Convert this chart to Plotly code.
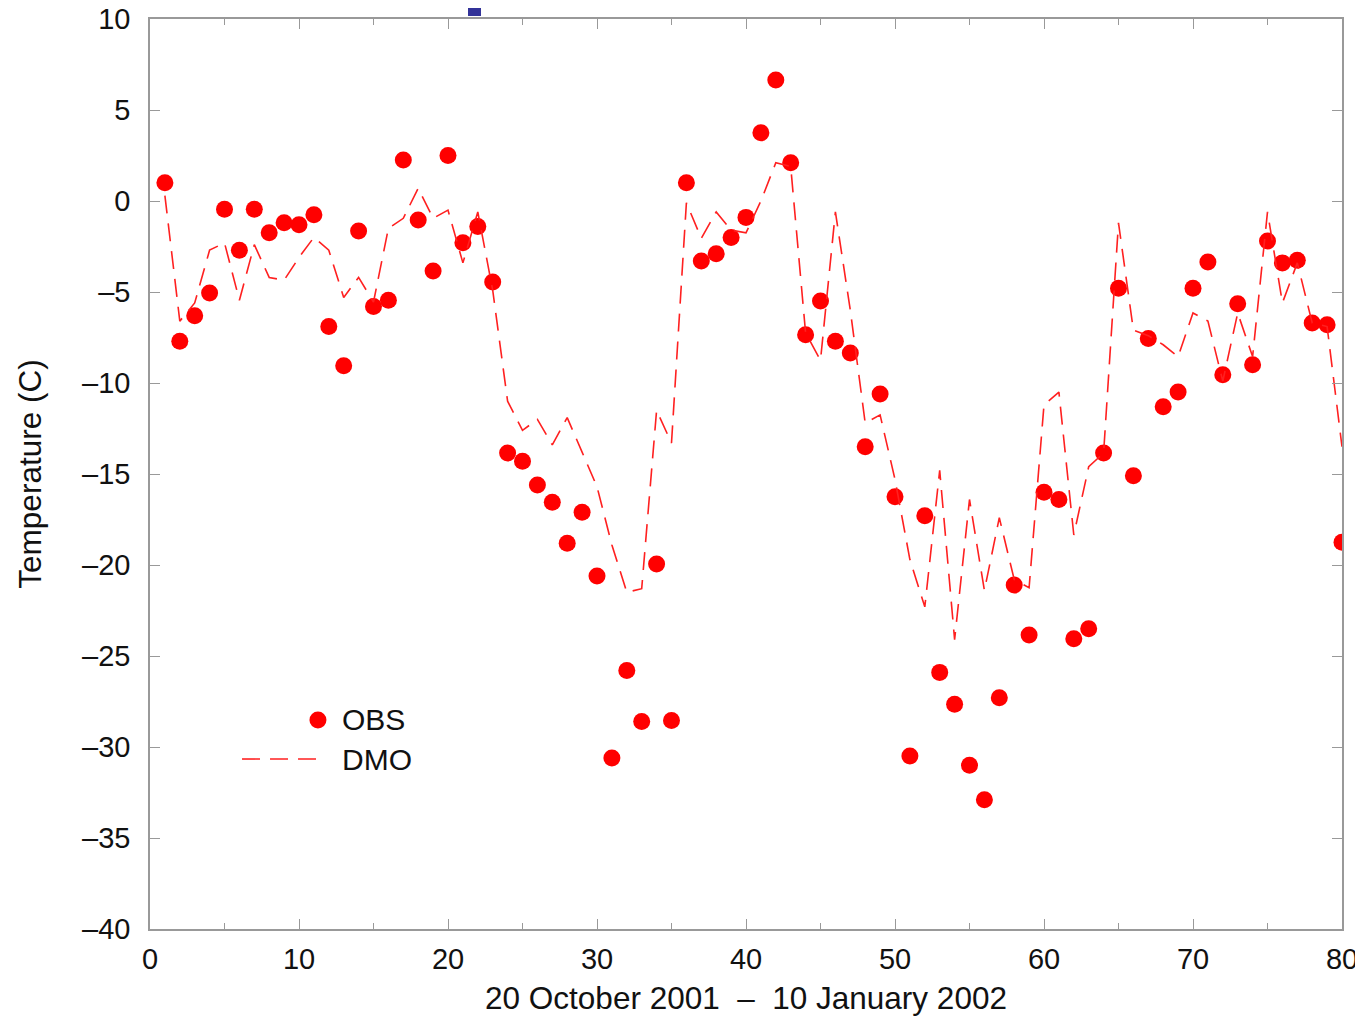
import plotly.graph_objects as go

days = list(range(1, 81))

obs = [1.0, -7.7, -6.3, -5.05, -0.45, -2.7, -0.45, -1.75, -1.2, -1.3,
       -0.75, -6.9, -9.05, -1.65, -5.8, -5.45, 2.25, -1.05, -3.85, 2.5,
       -2.3, -1.4, -4.45, -13.85, -14.3, -15.6, -16.55, -18.8, -17.1, -20.6,
       -30.6, -25.8, -28.6, -19.95, -28.55, 1.0, -3.3, -2.9, -2.0, -0.9,
       3.75, 6.65, 2.1, -7.35, -5.5, -7.7, -8.35, -13.5, -10.6, -16.25,
       -30.5, -17.3, -25.9, -27.65, -31.0, -32.9, -27.3, -21.1, -23.85, -16.0,
       -16.4, -24.05, -23.5, -13.85, -4.8, -15.1, -7.55, -11.3, -10.5, -4.8,
       -3.35, -9.55, -5.65, -9.0, -2.2, -3.4, -3.25, -6.7, -6.8, -18.75]

dmo = [0.3, -6.6, -5.6, -2.7, -2.3, -5.45, -2.4, -4.2, -4.35, -3.1,
       -2.0, -2.7, -5.3, -4.2, -5.55, -1.5, -0.95, 0.7, -0.95, -0.5,
       -3.4, -0.6, -4.9, -11.0, -12.6, -12.0, -13.4, -11.9, -13.8, -15.7,
       -18.9, -21.5, -21.3, -11.5, -13.3, -0.1, -2.05, -0.6, -1.6, -1.75,
       0.0, 2.1, 1.9, -7.25, -8.75, -0.6, -6.0, -12.2, -11.75, -15.3,
       -19.7, -22.3, -14.8, -24.1, -16.4, -21.4, -17.4, -20.8, -21.25, -11.2,
       -10.5, -18.35, -14.6, -13.85, -1.2, -7.1, -7.4, -7.9, -8.55, -6.15,
       -6.6, -9.9, -6.15, -8.55, -0.6, -5.6, -3.4, -6.7, -6.9, -13.5]

x_ticks = [0, 10, 20, 30, 40, 50, 60, 70, 80]
y_ticks = [10, 5, 0, -5, -10, -15, -20, -25, -30, -35, -40]

FONT = "Liberation Sans, Arial, Helvetica, sans-serif"
RED = "#ff0000"
DASH = "18px,10px"

fig = go.Figure()
fig.add_trace(go.Scatter(
    x=days, y=obs, mode="markers", name="OBS", showlegend=False,
    marker=dict(color=RED, size=17, line=dict(width=0)),
))
fig.add_trace(go.Scatter(
    x=days, y=dmo, mode="lines", name="DMO", showlegend=False,
    line=dict(color="#ff2020", width=1.6, dash=DASH),
))

axis_common = dict(
    showgrid=False, zeroline=False, showline=True, linecolor="#999999",
    linewidth=1.5, mirror="allticks", ticks="inside", ticklen=10,
    tickcolor="#999999", tickwidth=1.2, automargin=False,
    ticklabeloverflow="allow",
    tickfont=dict(family=FONT, size=29, color="#111111"),
)

fig.update_xaxes(
    range=[0, 80], tickvals=x_ticks, ticktext=[str(v) for v in x_ticks],
    minor=dict(dtick=5, ticks="inside", ticklen=6, tickcolor="#999999"),
    ticklabelstandoff=3,
    title=dict(text="20 October 2001  \u2013  10 January 2002",
               font=dict(family=FONT, size=31.5, color="#111111"), standoff=13),
    **axis_common,
)
fig.update_yaxes(
    range=[-40, 10], tickvals=y_ticks,
    ticktext=[("\u2013" + str(-v)) if v < 0 else str(v) for v in y_ticks],
    ticklabelstandoff=12,
    title=dict(text="Temperature (C)",
               font=dict(family=FONT, size=31.5, color="#111111"), standoff=31),
    **axis_common,
)

# stray blue block above the frame
fig.add_shape(type="rect", xref="paper", yref="paper",
              x0=0.2668, x1=0.2777, y0=1.0033, y1=1.0209,
              fillcolor="#333399", line=dict(width=0), layer="above")

# legend drawn in gnuplot style: sample to the left of the label
fig.add_shape(type="circle", xref="paper", yref="paper",
              xsizemode="pixel", ysizemode="pixel",
              xanchor=0.1409, yanchor=0.2297,
              x0=-8.5, x1=8.5, y0=-8.5, y1=8.5,
              fillcolor=RED, line=dict(width=0))
fig.add_shape(type="line", xref="paper", yref="paper",
              x0=0.0772, x1=0.1426, y0=0.1868, y1=0.1868,
              line=dict(color="#ff2020", width=1.6, dash=DASH))
fig.add_annotation(x=0.1594, y=0.2297, xref="paper", yref="paper",
                   text="OBS", showarrow=False, xanchor="left", yanchor="middle",
                   font=dict(family=FONT, size=30, color="#111111"))
fig.add_annotation(x=0.1594, y=0.1868, xref="paper", yref="paper",
                   text="DMO", showarrow=False, xanchor="left", yanchor="middle",
                   font=dict(family=FONT, size=30, color="#111111"))

# the page body adds an 8px margin, so the figure is sized to fit the window
fig.update_layout(
    width=1355, height=1010,
    margin=dict(l=142, r=21, t=11, b=89),
    paper_bgcolor="white", plot_bgcolor="white",
    font=dict(family=FONT, color="#111111"),
    showlegend=False,
)

fig.write_html("out.html")
